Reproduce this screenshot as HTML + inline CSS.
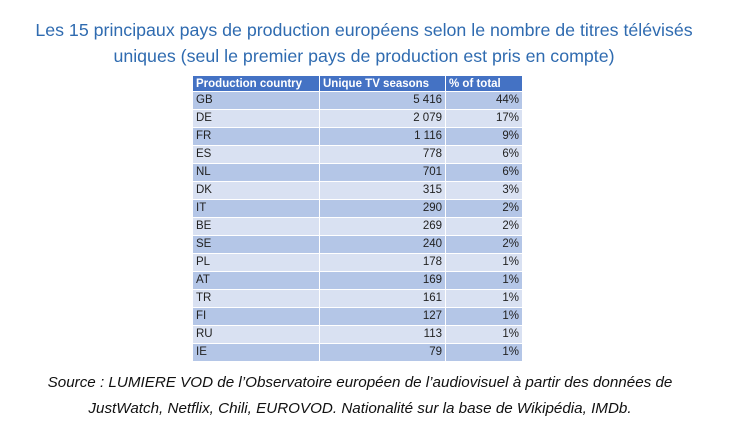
<!DOCTYPE html>
<html><head><style>
body{margin:0;width:733px;height:439px;background:#fff;font-family:"Liberation Sans",sans-serif;position:relative;overflow:hidden}
.t{position:absolute;left:0;width:728px;text-align:center;color:#2F6BB0;font-size:17.8px}
table{position:absolute;left:192px;top:75px;border-collapse:collapse;font-size:11.5px;color:#222}
td{height:17px;padding:0 3px;border:1px solid #fff;line-height:17px}
th{height:15px;padding:0 3px;border:1px solid #fff;background:#4472C4;color:#fff;text-align:left;font-size:11.5px;font-weight:bold}
tr.a td{background:#B4C6E7}tr.b td{background:#D9E1F2}
td.r{text-align:right}
.s{position:absolute;left:0;width:720px;text-align:center;font-style:italic;font-size:15.2px;color:#111}
</style></head><body>
<div class="t" style="top:20px">Les 15 principaux pays de production européens selon le nombre de titres télévisés</div>
<div class="t" style="top:46px">uniques (seul le premier pays de production est pris en compte)</div>
<table>
<tr><th style="width:120px">Production country</th><th style="width:119px">Unique TV seasons</th><th style="width:70px">% of total</th></tr>
<tr class="a"><td>GB</td><td class="r">5 416</td><td class="r">44%</td></tr>
<tr class="b"><td>DE</td><td class="r">2 079</td><td class="r">17%</td></tr>
<tr class="a"><td>FR</td><td class="r">1 116</td><td class="r">9%</td></tr>
<tr class="b"><td>ES</td><td class="r">778</td><td class="r">6%</td></tr>
<tr class="a"><td>NL</td><td class="r">701</td><td class="r">6%</td></tr>
<tr class="b"><td>DK</td><td class="r">315</td><td class="r">3%</td></tr>
<tr class="a"><td>IT</td><td class="r">290</td><td class="r">2%</td></tr>
<tr class="b"><td>BE</td><td class="r">269</td><td class="r">2%</td></tr>
<tr class="a"><td>SE</td><td class="r">240</td><td class="r">2%</td></tr>
<tr class="b"><td>PL</td><td class="r">178</td><td class="r">1%</td></tr>
<tr class="a"><td>AT</td><td class="r">169</td><td class="r">1%</td></tr>
<tr class="b"><td>TR</td><td class="r">161</td><td class="r">1%</td></tr>
<tr class="a"><td>FI</td><td class="r">127</td><td class="r">1%</td></tr>
<tr class="b"><td>RU</td><td class="r">113</td><td class="r">1%</td></tr>
<tr class="a"><td>IE</td><td class="r">79</td><td class="r">1%</td></tr>
</table>
<div class="s" style="top:374px">Source : LUMIERE VOD de l’Observatoire européen de l’audiovisuel à partir des données de</div>
<div class="s" style="top:400px">JustWatch, Netflix, Chili, EUROVOD. Nationalité sur la base de Wikipédia, IMDb.</div>
</body></html>
